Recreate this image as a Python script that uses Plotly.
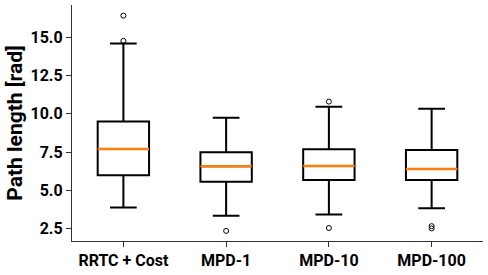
import plotly.graph_objects as go

categories = ["RRTC + Cost", "MPD-1", "MPD-10", "MPD-100"]
q1 = [6.0, 5.57, 5.68, 5.68]
median = [7.71, 6.58, 6.6, 6.41]
q3 = [9.5, 7.5, 7.7, 7.65]
lower_whisker = [3.9, 3.36, 3.43, 3.85]
upper_whisker = [14.59, 9.74, 10.47, 10.34]
outliers = [[14.76, 16.41], [2.37], [10.8, 2.56], [2.68, 2.53]]
y_ticks = [2.5, 5.0, 7.5, 10.0, 12.5, 15.0]

pos = list(range(len(categories)))
BOX_W = 0.5

fig = go.Figure()
fig.add_trace(go.Box(
    x=pos, q1=q1, median=median, q3=q3,
    lowerfence=lower_whisker, upperfence=upper_whisker,
    width=BOX_W, whiskerwidth=0.52, boxpoints=False,
    fillcolor="white", line=dict(color="black", width=2),
    showlegend=False, hoverinfo="skip",
))

# orange median lines
mx, my = [], []
for i, m in zip(pos, median):
    mx += [i - BOX_W / 2, i + BOX_W / 2, None]
    my += [m, m, None]
fig.add_trace(go.Scatter(x=mx, y=my, mode="lines",
                         line=dict(color="#ff7f0e", width=2.5),
                         showlegend=False, hoverinfo="skip"))

# outliers
ox, oy = [], []
for i, vals in zip(pos, outliers):
    for v in vals:
        ox.append(i)
        oy.append(v)
fig.add_trace(go.Scatter(x=ox, y=oy, mode="markers",
                         marker=dict(symbol="circle-open", size=5, color="black",
                                     line=dict(width=1, color="black")),
                         showlegend=False, hoverinfo="skip"))

tickfont = dict(family="Roboto", size=16, weight="bold", color="black")
fig.update_layout(
    width=488, height=275,
    margin=dict(l=72, r=5, t=5, b=31),
    paper_bgcolor="white", plot_bgcolor="white",
    xaxis=dict(range=[-0.5, 3.5], tickvals=pos, ticktext=categories,
               showgrid=False, zeroline=False, showline=True, linecolor="#333",
               linewidth=1.3, ticks="outside", ticklen=5, tickwidth=1, tickcolor="#333",
               tickfont=tickfont),
    yaxis=dict(range=[1.71, 17.1], tickvals=y_ticks, tickformat=".1f",
               showgrid=False, zeroline=False, showline=True, linecolor="#333",
               linewidth=1.3, ticks="outside", ticklen=5, tickwidth=1, tickcolor="#333",
               tickfont=tickfont,
               title=dict(text="Path length [rad]", standoff=2,
                          font=dict(family="Roboto", size=21, weight="bold", color="black"))),
)
fig.write_html("out.html", config={"displayModeBar": False},
               post_script="document.body.style.margin='0';document.body.style.padding='0';")
